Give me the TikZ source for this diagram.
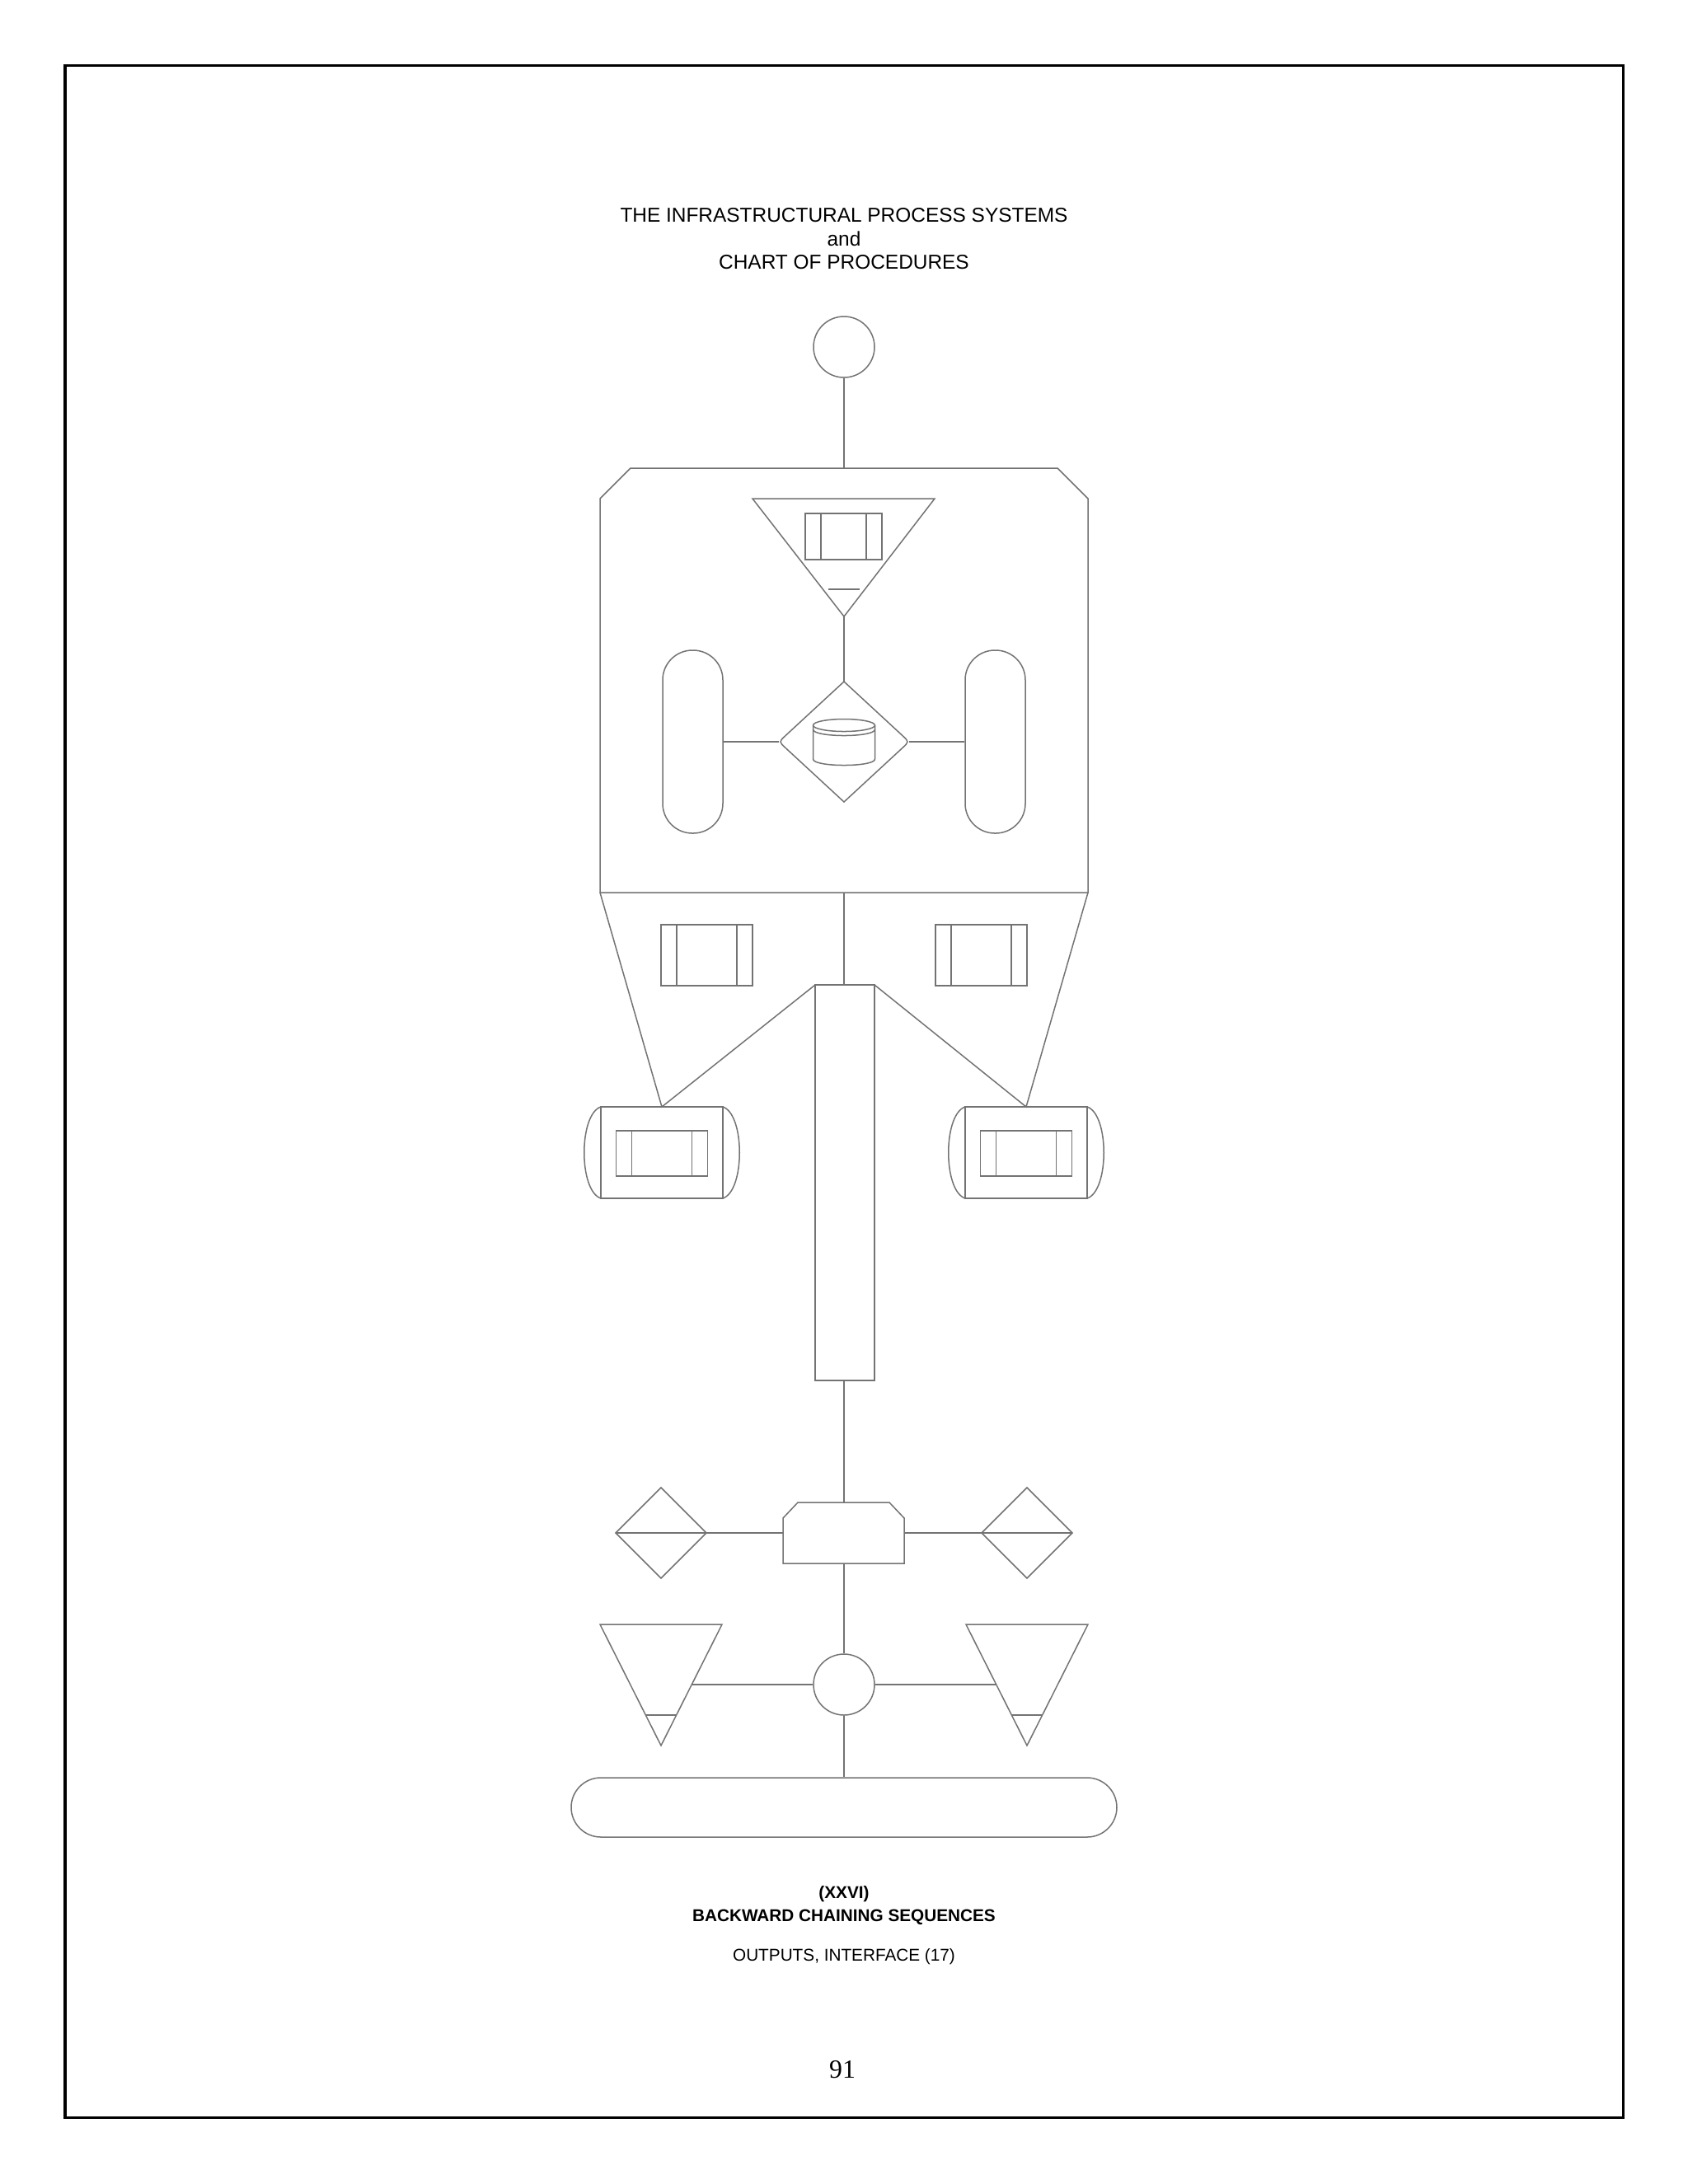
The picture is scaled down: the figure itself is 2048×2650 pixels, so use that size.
\documentclass[tikz,border=0pt]{standalone}
\usepackage{fontspec}
\setmainfont{Liberation Serif}
\newfontfamily\arialfont{Liberation Sans}
\usetikzlibrary{calc}
\usetikzlibrary{positioning}
\def\px{0.2988pt}
\def\slab(#1)(#2:#3:#4)% Syntax: (center) (width:height:inset)
    { \draw[wire] ($(#1)+(-#2/2,-#3/2)$) rectangle ($(#1)+(#2/2,#3/2)$);
      \draw[wire] ($(#1)+(-#2/2+#4,-#3/2)$) -- ($(#1)+(-#2/2+#4,#3/2)$);
      \draw[wire] ($(#1)+(#2/2-#4,-#3/2)$) -- ($(#1)+(#2/2-#4,#3/2)$); }
\definecolor{myline}{RGB}{115,115,115}

\begin{document}
\begin{tikzpicture}
    [x=\px,y=-\px,
     wire/.style={draw=myline,line width=0.45pt},
     ring/.style={wire,circle,inner sep=0pt,minimum size=74*\px},
     pill/.style={wire,rectangle,inner sep=0pt,rounded corners=36*\px},
     caption/.style={font=\arialfont\fontsize{6.2}{8.1}\selectfont,align=center}]

    \useasboundingbox (0,0) rectangle (2048,2650);
    \draw[black,line width=0.9pt] (79,79) rectangle (1969,2569);

    \node[font=\arialfont\fontsize{7.3}{8.5}\selectfont,align=center] (title) at (1024,290)
        {THE INFRASTRUCTURAL PROCESS SYSTEMS\\and\\CHART OF PROCEDURES};

    \node[ring] (topc) at (1024,421) {};

    % upper housing
    \coordinate (octtop) at (1024,568);
    \coordinate (octbot) at (1024,1083);
    \draw[wire] (728,605) -- (765,568) -- (1283,568) -- (1320,605) -- (1320,1083) -- (728,1083) -- cycle;
    \draw[wire] (topc) -- (octtop);

    % inverted triangle
    \coordinate (tapex) at (1024,748);
    \draw[wire] (913,605) -- (1134,605) -- (tapex) -- cycle;
    \slab(1023.5,651)(93:56:19)
    \draw[wire] (1005,715) -- (1043,715);

    % diamond with drum
    \coordinate (dt) at (1024,827);
    \coordinate (db) at (1024,973);
    \coordinate (dl) at (945,900);
    \coordinate (dr) at (1103,900);
    \draw[wire] (dt) -- (1095,892.6) .. controls (dr) .. (1095,907.4) -- (db)
        -- (953,907.4) .. controls (dl) .. (953,892.6) -- cycle;
    \draw[wire] (1024,880) ellipse (37.5 and 7.5);
    \draw[wire] (986.5,885) .. controls (986.5,895) and (1061.5,895) .. (1061.5,885);
    \draw[wire] (986.5,880) -- (986.5,921) .. controls (986.5,931) and (1061.5,931) .. (1061.5,921) -- (1061.5,880);
    \draw[wire] (tapex) -- (dt);

    \node[pill,minimum width=73*\px,minimum height=222*\px] (lpill) at (840.5,900) {};
    \node[pill,minimum width=73*\px,minimum height=222*\px] (rpill) at (1207.5,900) {};
    \draw[wire] (lpill) -- (dl);
    \draw[wire] (dr) -- (rpill);

    % funnel and stem
    \coordinate (stemtop) at (1024,1195);
    \coordinate (stembot) at (1024,1675);
    \draw[wire] (728,1083) -- (803,1343) -- (989,1195) -- (1061,1195) -- (1245,1343) -- (1320,1083);
    \draw[wire] (989,1195) rectangle (1061,1675);
    \draw[wire] (octbot) -- (stemtop);
    \slab(857.5,1159)(111:74:19)
    \slab(1190.5,1159)(111:74:19)

    % drums
    \foreach \c in {803,1245}{
        \draw[wire] (\c-74,1343) rectangle (\c+74,1454);
        \draw[wire] (\c-74,1343) .. controls (\c-101,1352) and (\c-101,1445) .. (\c-74,1454);
        \draw[wire] (\c+74,1343) .. controls (\c+101,1352) and (\c+101,1445) .. (\c+74,1454);
        \slab(\c,1399.5)(111:55:19)
    }

    % lower chain
    \coordinate (hextop) at (1024,1823);
    \coordinate (hexbot) at (1024,1897);
    \coordinate (hexl) at (950,1860);
    \coordinate (hexr) at (1097,1860);
    \draw[wire] (950,1842) -- (968,1823) -- (1079,1823) -- (1097,1842) -- (1097,1897) -- (950,1897) -- cycle;
    \draw[wire] (stembot) -- (hextop);

    \coordinate (ldia) at (857,1860);
    \coordinate (rdia) at (1191,1860);
    \draw[wire] (802,1805) -- (857,1860) -- (802,1915) -- (747,1860) -- cycle;
    \draw[wire] (747,1860) -- (ldia);
    \draw[wire] (1246,1805) -- (1301,1860) -- (1246,1915) -- (1191,1860) -- cycle;
    \draw[wire] (rdia) -- (1301,1860);
    \draw[wire] (ldia) -- (hexl);
    \draw[wire] (hexr) -- (rdia);

    \node[ring] (midc) at (1024,2044) {};
    \draw[wire] (hexbot) -- (midc);

    \coordinate (ltri) at (839,2044);
    \coordinate (rtri) at (1209,2044);
    \draw[wire] (728,1971) -- (876,1971) -- (802,2118) -- cycle;
    \draw[wire] (783.4,2081) -- (820.6,2081);
    \draw[wire] (1172,1971) -- (1320,1971) -- (1246,2118) -- cycle;
    \draw[wire] (1227.4,2081) -- (1264.6,2081);
    \draw[wire] (ltri) -- (midc);
    \draw[wire] (midc) -- (rtri);

    \node[pill,minimum width=662*\px,minimum height=72*\px] (base) at (1024,2193) {};
    \draw[wire] (midc) -- (base);

    % captions
    \node[caption,font=\arialfont\bfseries\fontsize{6.2}{8.1}\selectfont] (head) at (1024,2312)
        {(XXVI)\\BACKWARD CHAINING SEQUENCES};
    \node[caption] (sub) at (1024,2374) {OUTPUTS, INTERFACE (17)};
    \node[font=\fontsize{9.5}{11}\selectfont] (page) at (1022,2511) {91};
\end{tikzpicture}
\end{document}
